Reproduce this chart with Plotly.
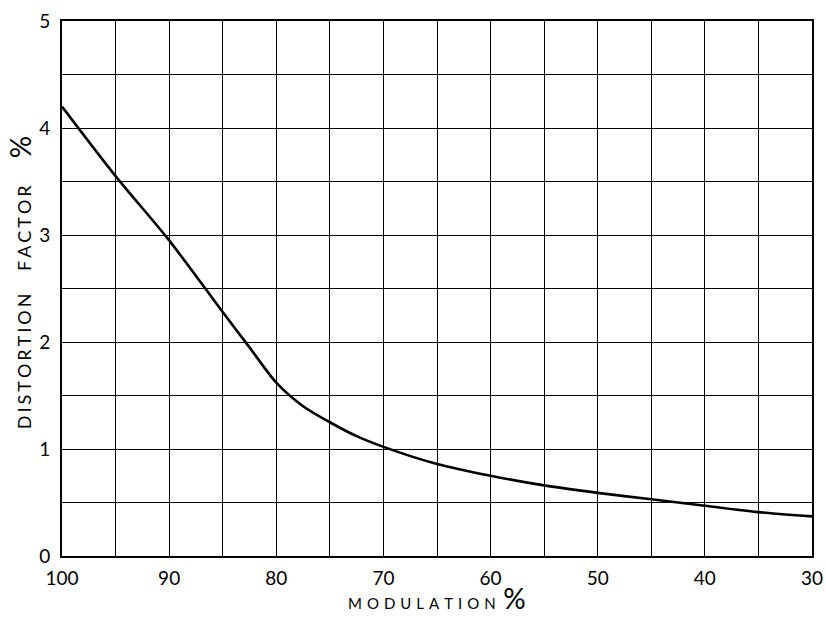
import plotly.graph_objects as go

modulation = [100, 95, 90, 85, 82.5, 80, 77.5, 75, 72.5, 70, 65, 60, 55, 50, 45, 40, 35, 30]
distortion = [4.20, 3.55, 2.95, 2.28, 1.95, 1.62, 1.40, 1.25, 1.12, 1.02, 0.86, 0.75, 0.66, 0.59, 0.53, 0.47, 0.41, 0.37]

x_ticks = [100, 90, 80, 70, 60, 50, 40, 30]
y_ticks = [0, 1, 2, 3, 4, 5]

x_title = "MODULATION"
y_title = ["DISTORTION", "FACTOR"]

def spaced(word, sp):
    return sp.join(list(word))

fig = go.Figure()
fig.add_trace(go.Scatter(
    x=modulation, y=distortion, mode="lines",
    line=dict(color="black", width=2.6, shape="spline", smoothing=0.8),
    showlegend=False, hoverinfo="skip",
))

font = "Lato, 'DejaVu Sans', sans-serif"
fig.update_layout(
    width=826, height=617,
    margin=dict(l=62, r=14, t=21, b=61),
    paper_bgcolor="white", plot_bgcolor="white",
    font=dict(family=font, color="black", size=19),
    xaxis=dict(
        range=[100, 30], tickvals=x_ticks, ticktext=[str(v) for v in x_ticks],
        showgrid=True, gridcolor="black", gridwidth=1.4,
        minor=dict(dtick=5, showgrid=True, gridcolor="black", gridwidth=1.4),
        showline=True, linecolor="black", linewidth=1.6, mirror=True,
        ticks="", zeroline=False, ticklabelstandoff=4, automargin=False,
    ),
    yaxis=dict(
        range=[0, 5], tickvals=y_ticks, ticktext=[str(v) for v in y_ticks],
        showgrid=True, gridcolor="black", gridwidth=1.4,
        minor=dict(dtick=0.5, showgrid=True, gridcolor="black", gridwidth=1.4),
        showline=True, linecolor="black", linewidth=1.6, mirror=True,
        ticks="", zeroline=False, ticklabelstandoff=6, automargin=False,
    ),
    annotations=[
        dict(text=spaced(x_title, "\u2004") + "\u2002<span style='font-size:28px'>%</span>",
             xref="paper", yref="paper", x=0.5, y=-0.114, yanchor="bottom",
             yshift=0, showarrow=False, font=dict(family=font, size=15)),
        dict(text=spaced(y_title[0], "\u2006") + "\u2003\u2002" + spaced(y_title[1], "\u2006")
             + "\u2003\u2003<span style='font-size:28px'>%</span>",
             xref="paper", yref="paper", x=-0.056, y=0.51,
             xanchor="center", yanchor="middle",
             textangle=-90, showarrow=False, font=dict(family=font, size=18)),
    ],
)

fig.write_html("out.html", post_script="document.body.style.margin='0';",
               config={"displayModeBar": False})
